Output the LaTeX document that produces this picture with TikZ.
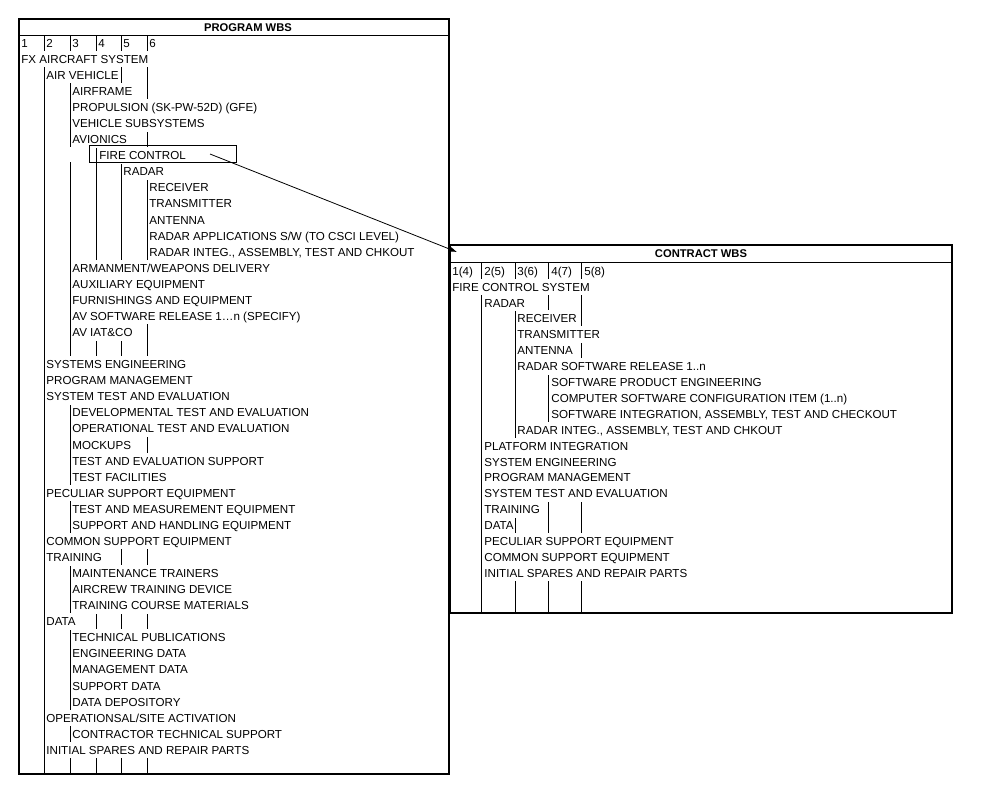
\documentclass[tikz,border=0pt]{standalone}
\usepackage{fontspec}
\usetikzlibrary{arrows.meta}
\setmainfont{Liberation Sans}
\begin{document}
\begin{tikzpicture}[x=1pt,y=-1pt,
  t/.style={anchor=west,font=\fontsize{11.6}{12}\selectfont,inner xsep=0.2pt,inner ysep=0pt,minimum height=16.6pt,fill=white,text height=8.5pt,text depth=0pt},
  ttl/.style={font=\fontsize{11.2}{12}\selectfont\bfseries,inner sep=0pt},
  ln/.style={line width=0.8pt},
  frame/.style={line width=1.2pt}]
\useasboundingbox (0,0) rectangle (1002,788);
% program WBS column lines
\foreach \x in {44,70,96,121,147} \draw[ln] (\x,35.5) -- (\x,774);
\fill[white] (60,147) rectangle (88,162);
% program header numbers
\foreach \n/\x in {1/21,2/46,3/72,4/98,5/123,6/149}
  \node[t] (ph\n) at (\x,43) {\n};
\foreach \i/\x/\s in {
 1/21/{FX AIRCRAFT SYSTEM},
 2/46/{AIR VEHICLE},
 3/72/{AIRFRAME},
 4/72/{PROPULSION (SK-PW-52D) (GFE)},
 5/72/{VEHICLE SUBSYSTEMS},
 6/72/{AVIONICS},
 7/99/{FIRE CONTROL},
 8/123/{RADAR},
 9/149/{RECEIVER},
 10/149/{TRANSMITTER},
 11/149/{ANTENNA},
 12/149/{RADAR APPLICATIONS S/W (TO CSCI LEVEL)},
 13/149/{RADAR INTEG., ASSEMBLY, TEST AND CHKOUT},
 14/72/{ARMANMENT/WEAPONS DELIVERY},
 15/72/{AUXILIARY EQUIPMENT},
 16/72/{FURNISHINGS AND EQUIPMENT},
 17/72/{AV SOFTWARE RELEASE 1…n (SPECIFY)},
 18/72/{AV IAT\&CO},
 20/46/{SYSTEMS ENGINEERING},
 21/46/{PROGRAM MANAGEMENT},
 22/46/{SYSTEM TEST AND EVALUATION},
 23/72/{DEVELOPMENTAL TEST AND EVALUATION},
 24/72/{OPERATIONAL TEST AND EVALUATION},
 25/72/{MOCKUPS},
 26/72/{TEST AND EVALUATION SUPPORT},
 27/72/{TEST FACILITIES},
 28/46/{PECULIAR SUPPORT EQUIPMENT},
 29/72/{TEST AND MEASUREMENT EQUIPMENT},
 30/72/{SUPPORT AND HANDLING EQUIPMENT},
 31/46/{COMMON SUPPORT EQUIPMENT},
 32/46/{TRAINING},
 33/72/{MAINTENANCE TRAINERS},
 34/72/{AIRCREW TRAINING DEVICE},
 35/72/{TRAINING COURSE MATERIALS},
 36/46/{DATA},
 37/72/{TECHNICAL PUBLICATIONS},
 38/72/{ENGINEERING DATA},
 39/72/{MANAGEMENT DATA},
 40/72/{SUPPORT DATA},
 41/72/{DATA DEPOSITORY},
 42/46/{OPERATIONSAL/SITE ACTIVATION},
 43/72/{CONTRACTOR TECHNICAL SUPPORT},
 44/46/{INITIAL SPARES AND REPAIR PARTS}}
  \node[t] (p\i) at (\x,{43+16.07*\i}) {\s};
\draw[ln] (89,145.5) rectangle (236,162) coordinate (fcbox);
\coordinate (fcstart) at (210,154);
% program frame
\draw[frame] (19,19) rectangle (449,774);
\draw[ln] (19,35.5) -- (449,35.5);
\node[ttl] (ptitle) at (248,27.5) {PROGRAM WBS};
% contract WBS
\foreach \x in {481,515,548,581} \draw[ln] (\x,262) -- (\x,613);
\foreach \n/\x/\s in {1/452/1(4),2/484/2(5),3/517/3(6),4/551/4(7),5/584/5(8)}
  \node[t] (ch\n) at (\x,271) {\s};
\foreach \i/\x/\s in {
 1/452/{FIRE CONTROL SYSTEM},
 2/484/{RADAR},
 3/517/{RECEIVER},
 4/517/{TRANSMITTER},
 5/517/{ANTENNA},
 6/517/{RADAR SOFTWARE RELEASE 1..n},
 7/551/{SOFTWARE PRODUCT ENGINEERING},
 8/551/{COMPUTER SOFTWARE CONFIGURATION ITEM (1..n)},
 9/551/{SOFTWARE INTEGRATION, ASSEMBLY, TEST AND CHECKOUT},
 10/517/{RADAR INTEG., ASSEMBLY, TEST AND CHKOUT},
 11/484/{PLATFORM INTEGRATION},
 12/484/{SYSTEM ENGINEERING},
 13/484/{PROGRAM MANAGEMENT},
 14/484/{SYSTEM TEST AND EVALUATION},
 15/484/{TRAINING},
 16/484/{DATA},
 17/484/{PECULIAR SUPPORT EQUIPMENT},
 18/484/{COMMON SUPPORT EQUIPMENT},
 19/484/{INITIAL SPARES AND REPAIR PARTS}}
  \node[t] (c\i) at (\x,{271+15.9*\i}) {\s};
\draw[frame] (450,245) rectangle (952,613);
\draw[ln] (450,262) -- (952,262);
\node[ttl] (ctitle) at (701,254) {CONTRACT WBS};
\coordinate (cin) at (457,252);
\draw[ln,-{Latex[length=7pt,width=5pt]}] (fcstart) -- (cin);
\end{tikzpicture}
\end{document}
